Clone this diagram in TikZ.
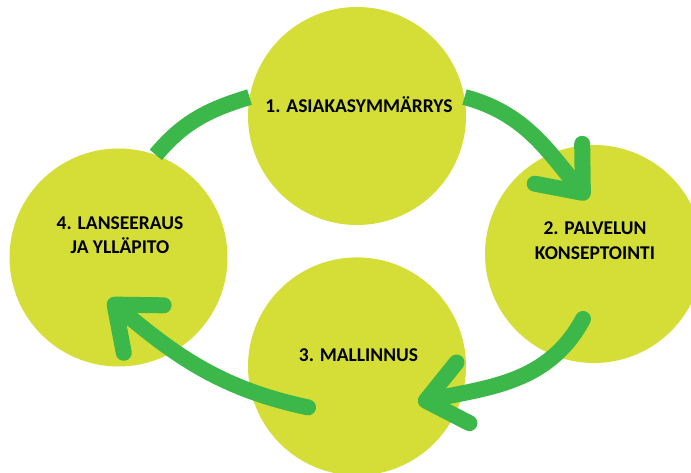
\documentclass[tikz,border=0pt]{standalone}
\usepackage{fontspec}
\setmainfont{Carlito}
\usepackage{tikz}
\usetikzlibrary{
    arrows.meta,
    positioning
}
\definecolor{phasefill}{HTML}{D4DE36}
\definecolor{flowgreen}{HTML}{3CB84A}

\begin{document}
\begin{tikzpicture}[x=1pt, y=1pt,
    phase/.style={circle, fill=phasefill, minimum size=218pt, inner sep=0pt},
    phasetext/.style={font=\bfseries\fontsize{19.5}{24.5}\selectfont, align=center,
                      text height=12.3pt, text depth=0pt},
    flow/.style={draw=flowgreen, line width=16pt},
    flowarrow/.style={flow, -{Straight Barb[length=38pt, width=62pt, round]}}]

    \useasboundingbox (0,0) rectangle (691,473);

    % Phase circles
    \node[phase] (asiakas) at (357,357) {};
    \node[phase, below=32pt of asiakas] (mallinnus) {};
    \node[phase] (konsept) at (594,219) {};
    \node[phase] (lanseeraus) at (118.5,215.5) {};

    % Phase labels
    \node[phasetext] (asiakas-txt) at ([shift={(2,10)}]asiakas.center) {1. ASIAKASYMMÄRRYS};
    \node[phasetext] (konsept-txt) at ([shift={(1,1)}]konsept.center) {2. PALVELUN\\KONSEPTOINTI};
    \node[phasetext] (mallinnus-txt) at ([shift={(1.5,11.5)}]mallinnus.center) {3. MALLINNUS};
    \node[phasetext] (lanseeraus-txt) at ([shift={(1.5,10)}]lanseeraus.center) {4. LANSEERAUS\\JA YLLÄPITO};

    % Flow arrows
    \draw[flow] (lanseeraus.70) to[out=50, in=197] (asiakas.170);
    \draw[flowarrow] (asiakas.10) to[out=-15, in=130] ([shift={(-6,55)}]konsept.center);
    \draw[flowarrow, line cap=round] ([shift={(-11,-65)}]konsept.center)
        to[out=242, in=12] ([shift={(61,-36)}]mallinnus.center);
    \draw[flowarrow, line cap=round] ([shift={(-49,-41)}]mallinnus.center)
        to[out=168, in=-40] ([shift={(-10,-42)}]lanseeraus.center);

\end{tikzpicture}
\end{document}
